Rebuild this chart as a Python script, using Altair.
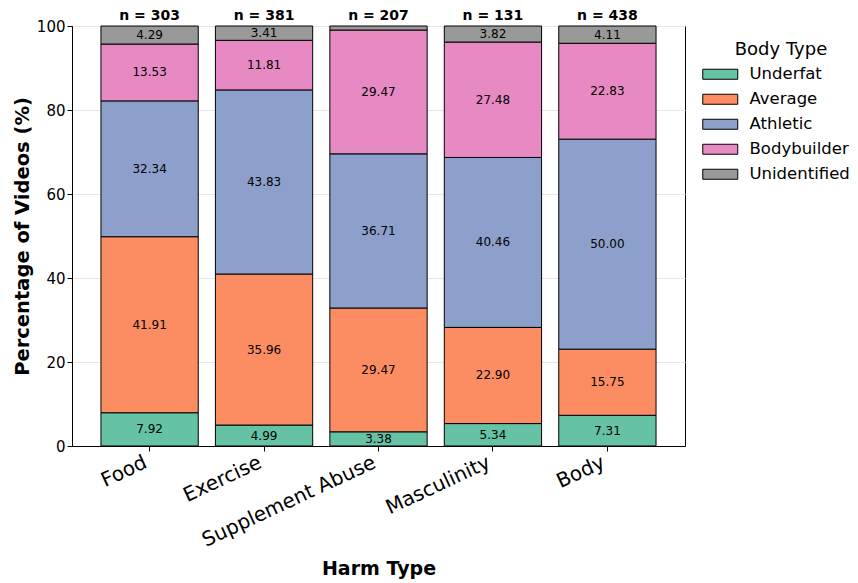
import altair as alt
import pandas as pd

harm = ["Food", "Exercise", "Supplement Abuse", "Masculinity", "Body"]
n_videos = [303, 381, 207, 131, 438]
body_types = ["Underfat", "Average", "Athletic", "Bodybuilder", "Unidentified"]
underfat = [7.92, 4.99, 3.38, 5.34, 7.31]
average = [41.91, 35.96, 29.47, 22.90, 15.75]
athletic = [32.34, 43.83, 36.71, 40.46, 50.00]
bodybuilder = [13.53, 11.81, 29.47, 27.48, 22.83]
unidentified = [4.29, 3.41, 0.97, 3.82, 4.11]
colors = ["#66c2a5", "#fc8d62", "#8da0cb", "#e78ac3", "#999999"]

series = [underfat, average, athletic, bodybuilder, unidentified]
rows = []
for bi, (bt, vals) in enumerate(zip(body_types, series)):
    for h, v in zip(harm, vals):
        rows.append({"harm": h, "body": bt, "value": v, "order": bi})
df = pd.DataFrame(rows)
ndf = pd.DataFrame({"harm": harm, "n": [f"n = {n}" for n in n_videos]})

FONT = "DejaVu Sans"
xenc = alt.X("harm:N", sort=harm, title="Harm Type",
             scale=alt.Scale(paddingInner=0.15, paddingOuter=0.253),
             axis=alt.Axis(labelAngle=-25, labelAlign="right", labelBaseline="top",
                           labelFontSize=20, labelLimit=0, titleFontSize=19,
                           titleFontWeight="bold",
                           titlePadding=9, labelPadding=1, labelOffset=-8, tickSize=5))

bars = alt.Chart(df).mark_bar(stroke="black", strokeWidth=1).encode(
    x=xenc,
    y=alt.Y("value:Q", stack="zero", title="Percentage of Videos (%)",
            scale=alt.Scale(domain=[0, 100], nice=False),
            axis=alt.Axis(values=[0, 20, 40, 60, 80, 100], labelFontSize=15,
                          titleFontSize=19.5, titleFontWeight="bold", titlePadding=4,
                          tickSize=5, grid=True, gridColor="#e6e6e6")),
    color=alt.Color("body:N", sort=body_types,
                    scale=alt.Scale(domain=body_types, range=colors),
                    legend=alt.Legend(title="Body Type", orient="none", legendX=640, legendY=15,
                                      symbolType="M-3.5,-1H3.5V1H-3.5Z", symbolSize=100,
                                      symbolStrokeColor="black", symbolStrokeWidth=1,
                                      symbolOpacity=1, labelLimit=0,
                                      labelFontSize=16.5, titleFontSize=18, titleFontWeight="normal",
                                      titleAnchor="middle", rowPadding=8, labelOffset=21,
                                      titlePadding=7, padding=0)),
    order=alt.Order("order:Q", sort="ascending"),
)

labels = alt.Chart(df).transform_stack(
    stack="value", groupby=["harm"], as_=["y0", "y1"],
    sort=[alt.SortField("order", order="ascending")]
).transform_calculate(
    mid="(datum.y0 + datum.y1) / 2"
).transform_filter(
    "datum.value > 2"
).mark_text(fontSize=12, color="black", baseline="middle").encode(
    x=alt.X("harm:N", sort=harm),
    y=alt.Y("mid:Q"),
    text=alt.Text("value:Q", format=".2f"),
)

ntext = alt.Chart(ndf).mark_text(fontSize=14, fontWeight="bold", color="black",
                                  baseline="middle").encode(
    x=alt.X("harm:N", sort=harm),
    y=alt.value(-10),
    text="n:N",
)

chart = alt.layer(bars, labels, ntext).properties(
    width=613, height=420,
    autosize="none",
    padding={"left": 64, "top": 18, "right": 165, "bottom": 135},
).configure(font=FONT).configure_view(
    stroke="black", strokeWidth=1
).configure_axis(
    domainColor="black", tickColor="black", labelColor="black", titleColor="black",
    labelFont=FONT, titleFont=FONT
).configure_legend(labelFont=FONT, titleFont=FONT, labelColor="black", titleColor="black")

chart.save("out.html", embed_options={"renderer": "svg", "actions": False})
